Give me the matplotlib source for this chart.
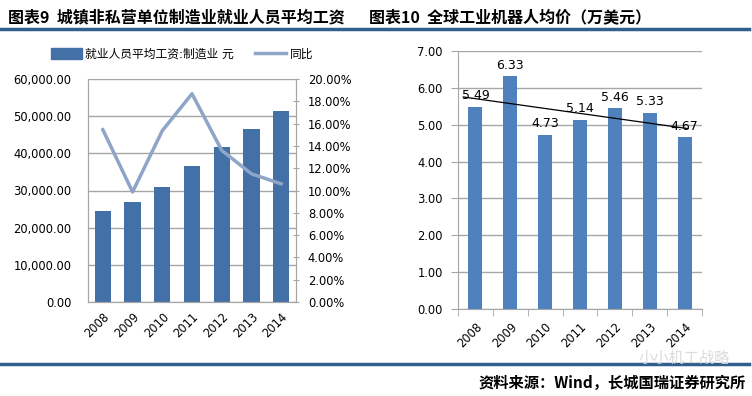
import matplotlib.pyplot as plt
import numpy as np

plt.rcParams['font.family'] = ['DejaVu Sans', 'Noto Sans CJK SC']

# data
years = ['2008', '2009', '2010', '2011', '2012', '2013', '2014']
wage = [24404, 26810, 30916, 36665, 41650, 46431, 51369]        # 就业人员平均工资:制造业 元
wage_yoy = [15.45, 9.87, 15.36, 18.68, 13.6, 11.5, 10.6]       # 同比 %
robot_price = [5.49, 6.33, 4.73, 5.14, 5.46, 5.33, 4.67]        # 万美元

W, H = 752, 396
fig = plt.figure(figsize=(W / 100, H / 100), dpi=100)

def box(x0, y0, x1, y1):   # pixel box -> fig coords
    return [x0 / W, 1 - y1 / H, (x1 - x0) / W, (y1 - y0) / H]

grid_c = '#A6A6A6'
tick_fs = 8.3
x = np.arange(len(years))

# ---------- left chart ----------
ax1 = fig.add_axes(box(88, 79, 296, 302))
ax1.bar(x, wage, width=0.55, color='#4470A8', zorder=2)
ax1.set_xlim(-0.5, 6.5)
ax1.set_ylim(0, 60000)
ax1.set_yticks(np.arange(0, 60001, 10000))
ax1.set_yticklabels([f'{v:,.2f}' for v in np.arange(0, 60001, 10000)], fontsize=tick_fs)
ax1.yaxis.grid(True, color=grid_c, lw=1)
ax1.set_axisbelow(True)
ax1.set_xticks(x)
ax1.set_xticklabels(years, rotation=45, ha='right', va='top', rotation_mode='anchor', fontsize=tick_fs)
ax1.tick_params(axis='y', length=0, pad=12)
ax1.tick_params(axis='x', length=0, pad=6)
ax1.spines['top'].set_visible(False)
for s in ['left', 'bottom', 'right']:
    ax1.spines[s].set_color(grid_c)

ax2 = ax1.twinx()
ax2.plot(x, wage_yoy, color='#8EA5C8', lw=2.5, zorder=3)
ax2.set_ylim(0, 20)
ax2.set_yticks(np.arange(0, 20.1, 2))
ax2.set_yticklabels([f'{v:.2f}%' for v in np.arange(0, 20.1, 2)], fontsize=tick_fs)
ax2.tick_params(axis='y', direction='inout', length=5, color=grid_c, pad=6)
ax2.spines['top'].set_visible(False)
for s in ['left', 'bottom', 'right']:
    ax2.spines[s].set_color(grid_c)

h1 = plt.Rectangle((0, 0), 1, 1, color='#4470A8')
h2 = plt.Line2D([], [], color='#8EA5C8', lw=2.5)
fig.legend([h1, h2], ['就业人员平均工资:制造业 元', '同比'], loc='center',
           bbox_to_anchor=(182 / W, 1 - 54 / H), ncol=2, frameon=False,
           fontsize=8.5, handlelength=2.6, handleheight=1.0, columnspacing=1.8,
           handletextpad=0.3)

# ---------- right chart ----------
ax3 = fig.add_axes(box(458, 51, 702, 309))
ax3.bar(x, robot_price, width=0.4, color='#4F81BD', zorder=2)
ax3.set_xlim(-0.5, 6.5)
ax3.set_ylim(0, 7)
ax3.set_yticks(np.arange(0, 7.01, 1))
ax3.set_yticklabels([f'{v:.2f}' for v in np.arange(0, 7.01, 1)], fontsize=tick_fs)
ax3.yaxis.grid(True, color=grid_c, lw=1)
ax3.set_axisbelow(True)
ax3.set_xticks(x)
ax3.set_xticklabels(years, rotation=45, ha='right', va='top', rotation_mode='anchor', fontsize=tick_fs)
ax3.set_xticks(np.arange(-0.5, 7, 1), minor=True)
ax3.tick_params(axis='x', which='major', length=0, pad=8)
ax3.tick_params(axis='x', which='minor', length=5, color=grid_c)
ax3.tick_params(axis='y', length=5, color=grid_c, pad=6)
for s in ['top', 'right']:
    ax3.spines[s].set_visible(False)
for s in ['left', 'bottom']:
    ax3.spines[s].set_color(grid_c)
for xi, v in zip(x, robot_price):
    ax3.annotate(f'{v:.2f}', (xi, v), xytext=(0, 3), textcoords='offset points',
                 ha='center', va='bottom', fontsize=9, zorder=4)
k, b = np.polyfit(x, robot_price, 1)
tx = np.array([-0.35, 6.1])
ax3.plot(tx, k * tx + b, color='black', lw=0.9, zorder=3)

# ---------- titles, rules, source ----------
fig.text(8 / W, 1 - 17 / H, '图表9  城镇非私营单位制造业就业人员平均工资', fontsize=11.5,
         fontweight='bold', family=['Noto Sans CJK SC'], va='center', ha='left')
fig.text(369 / W, 1 - 17 / H, '图表10  全球工业机器人均价（万美元）', fontsize=11.5,
         fontweight='bold', family=['Noto Sans CJK SC'], va='center', ha='left')
fig.add_artist(plt.Line2D([0, 749 / W], [1 - 29 / H] * 2, color='#2F5F8F', lw=2.5))
fig.add_artist(plt.Line2D([0, 749 / W], [1 - 364 / H] * 2, color='#2F5F8F', lw=2.5))
fig.text(746 / W, 1 - 383 / H, '资料来源：Wind，长城国瑞证券研究所', fontsize=11,
         fontweight='bold', family=['Noto Sans CJK SC'], va='center', ha='right')
fig.text(730 / W, 1 - 358 / H, '小小机工战略', fontsize=11, color='#D8D8D8',
         family=['Noto Sans CJK SC'], va='center', ha='right', alpha=0.9)

fig.savefig('out.png', dpi=100)
